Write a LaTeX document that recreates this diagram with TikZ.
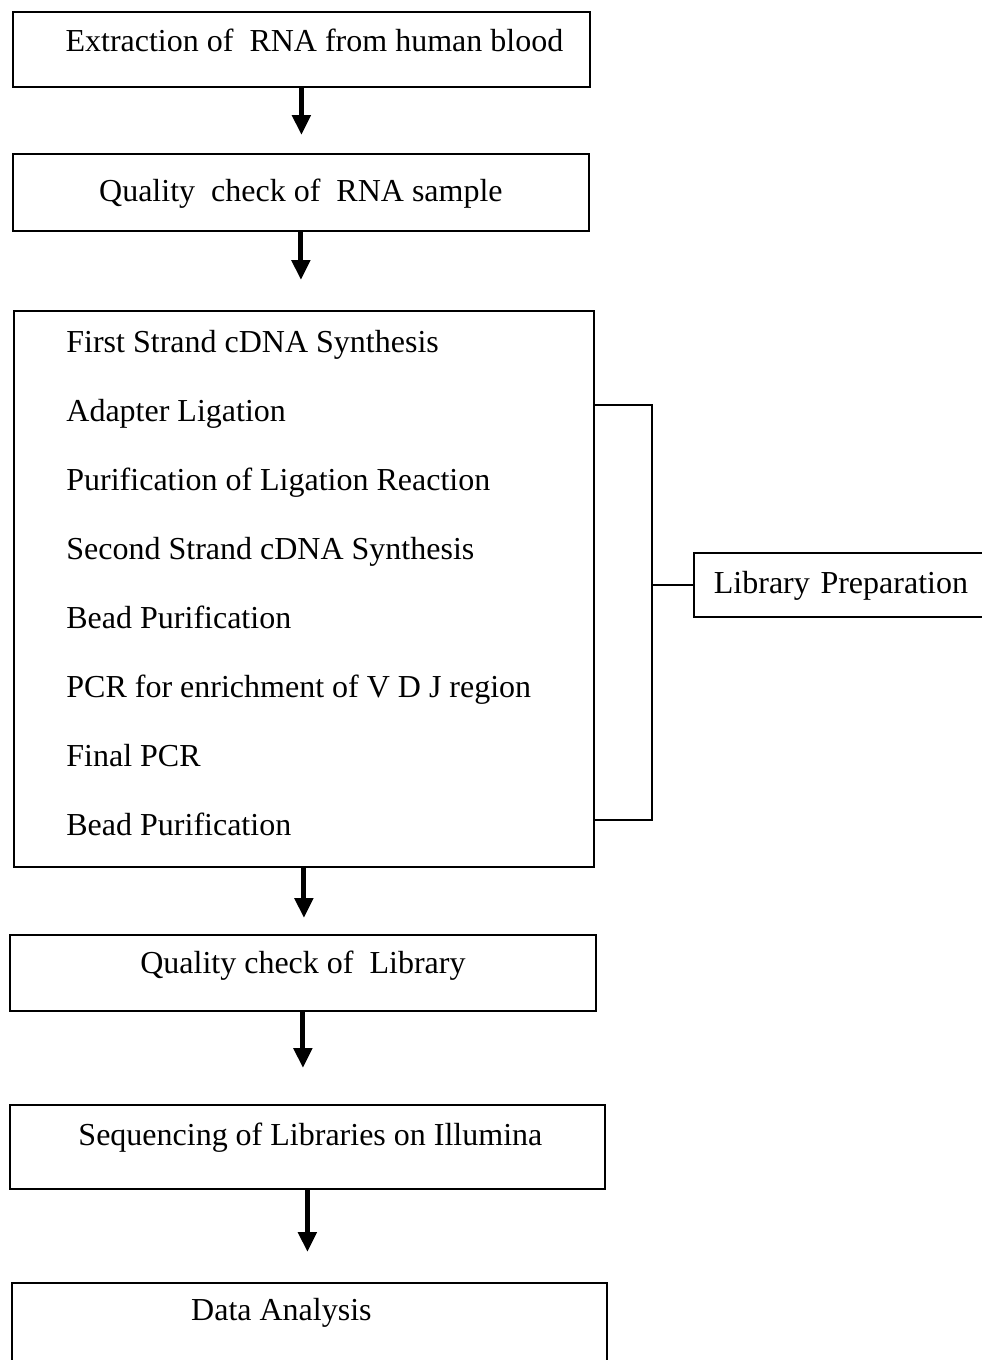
\documentclass[tikz,border=0pt]{standalone}
\usepackage{fontspec}
\setmainfont{Liberation Serif}
\usetikzlibrary{arrows.meta}
\tikzstyle{stepbox} = [draw, line width=0.9pt, anchor=north west, inner sep=0pt, align=center, font=\fontsize{16}{20}\selectfont]
\tikzstyle{steptext} = [anchor=base west, inner sep=0pt, font=\fontsize{16}{20}\selectfont]
\tikzstyle{arrow} = [line width=2.5pt, ->, >={Triangle[width=9pt,length=10pt]}]
\tikzstyle{bracket} = [line width=0.9pt]

\begin{document}
\begin{tikzpicture}[x=0.5pt, y=-0.5pt]
\useasboundingbox (0,0) rectangle (981,1360);

% main steps
\node[stepbox, minimum width=288.5pt, text height=20pt, text depth=17.5pt] (extract) at (12,11) {\hspace*{13pt}Extraction of\ \ RNA from human blood};
\node[stepbox, minimum width=288pt, text height=24pt, text depth=14.5pt] (qcrna) at (12,153) {Quality\ \ check of\ \ RNA sample};
\node[stepbox, minimum width=290pt, minimum height=278pt] (prep) at (13,310) {};
\node[stepbox, minimum width=293pt, text height=19.5pt, text depth=18.5pt] (qclib) at (9,934) {Quality check of\ \ Library};
\node[stepbox, minimum width=297.5pt, text height=20.5pt, text depth=21.5pt] (seq) at (9,1104) {\hspace*{3pt}Sequencing of Libraries on Illumina};
\node[stepbox, minimum width=297.5pt, text height=19pt, text depth=40pt] (data) at (11,1282) {Data Analysis\hspace*{28pt}};

% library preparation steps
\foreach \txt [count=\i] in {First Strand cDNA Synthesis, Adapter Ligation, Purification of Ligation Reaction, Second Strand cDNA Synthesis, Bead Purification, PCR for enrichment of V D J region, Final PCR, Bead Purification}
  \node[steptext] (s\i) at (66,{352+69*(\i-1)}) {\txt};

\node[stepbox, align=left, text width=150pt, inner xsep=10pt, text height=20.5pt, text depth=11.5pt] (lib) at (693,552) {Library Preparation};

% bracket
\coordinate (brtop) at (652,405);
\coordinate (brbot) at (652,820);
\draw[bracket] (prep.east |- brtop) -- (brtop) -- (brbot) -- (prep.east |- brbot);
\draw[bracket] (brtop |- lib.west) -- (lib.west);

% flow
\draw[arrow, shorten >=9pt] (extract.south) -- (extract.south |- qcrna.north);
\draw[arrow, shorten >=15pt] (qcrna.south) -- (qcrna.south |- prep.north);
\draw[arrow, shorten >=8pt] (prep.south) -- (prep.south |- qclib.north);
\draw[arrow, shorten >=18pt] (qclib.south) -- (qclib.south |- seq.north);
\draw[arrow, shorten >=15pt] (seq.south) -- (seq.south |- data.north);
\end{tikzpicture}
\end{document}
